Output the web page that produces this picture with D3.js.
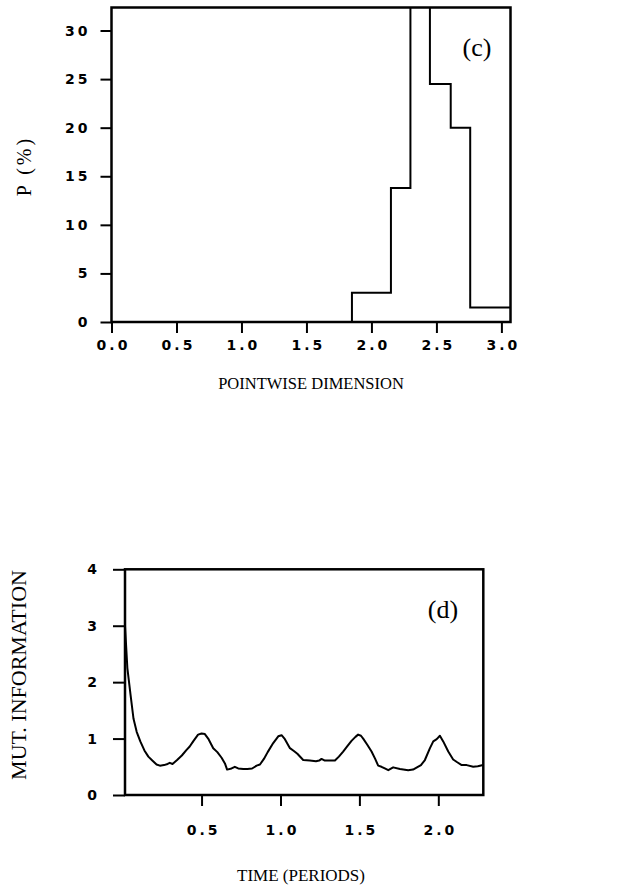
<!DOCTYPE html>
<html>
<head>
<meta charset="utf-8">
<script src="https://cdn.jsdelivr.net/npm/d3@7/dist/d3.min.js"></script>
<style>
  html, body { margin: 0; padding: 0; background: #fff; }
  svg { display: block; }
  .tick text { font-family: "DejaVu Sans", sans-serif; font-weight: bold; font-size: 14px; letter-spacing: 3px; fill: #000; }
  .title { font-family: "Liberation Serif", "DejaVu Serif", serif; fill: #000; }
</style>
</head>
<body>
<script>
// ---- Panel (c): histogram of pointwise dimension ----
const binEdges  = [1.85, 2.15, 2.30, 2.45, 2.61, 2.76, 3.07];
const binValues = [3.0, 13.8, 37.0, 24.5, 20.0, 1.5];
const cXTicks = [0.0, 0.5, 1.0, 1.5, 2.0, 2.5, 3.0];
const cYTicks = [0, 5, 10, 15, 20, 25, 30];

// ---- Panel (d): mutual information vs time ----
const miTime = [0.015, 0.03, 0.049, 0.069, 0.089, 0.112, 0.138, 0.163, 0.188, 0.215, 0.236, 0.262, 0.285, 0.299, 0.316,
  0.345, 0.375, 0.405, 0.425, 0.447, 0.478, 0.500, 0.521, 0.542, 0.574, 0.600, 0.627, 0.648, 0.662, 0.690, 0.711, 0.732,
  0.764, 0.790, 0.820, 0.849, 0.870, 0.895, 0.919, 0.954, 0.986, 1.007, 1.028, 1.060, 1.085, 1.107, 1.144, 1.186, 1.225,
  1.245, 1.260, 1.281, 1.345, 1.370, 1.397, 1.425, 1.450, 1.475, 1.492, 1.510, 1.524, 1.550, 1.577, 1.600, 1.619, 1.640,
  1.661, 1.683, 1.714, 1.757, 1.809, 1.840, 1.862, 1.890, 1.915, 1.947, 1.968, 1.990, 2.010, 2.031, 2.063, 2.094, 2.120,
  2.148, 2.180, 2.221, 2.250, 2.284];
const miValue = [3.0, 2.25, 1.80, 1.35, 1.12, 0.95, 0.79, 0.68, 0.61, 0.54, 0.52, 0.53, 0.55, 0.57, 0.55,
  0.62, 0.70, 0.80, 0.86, 0.95, 1.07, 1.09, 1.08, 1.00, 0.83, 0.76, 0.66, 0.56, 0.45, 0.47, 0.50, 0.47,
  0.46, 0.46, 0.47, 0.52, 0.54, 0.64, 0.76, 0.92, 1.04, 1.06, 0.99, 0.83, 0.78, 0.73, 0.62, 0.61, 0.60,
  0.61, 0.64, 0.61, 0.61, 0.68, 0.77, 0.87, 0.96, 1.03, 1.07, 1.05, 1.00, 0.89, 0.77, 0.64, 0.52, 0.50,
  0.47, 0.44, 0.49, 0.46, 0.44, 0.45, 0.485, 0.53, 0.62, 0.83, 0.95, 0.99, 1.05, 0.95, 0.77, 0.63, 0.58,
  0.53, 0.53, 0.50, 0.51, 0.53];
const dXTicks = [0.5, 1.0, 1.5, 2.0];
const dYTicks = [0, 1, 2, 3, 4];

const W = 617, H = 888;
const svg = d3.select("body").append("svg").attr("width", W).attr("height", H);

function fmt1(d) { return d3.format(".1f")(d); }

function drawAxes(g, x, y, xt, yt, xfmt, xTick, xPad, yTick, yPad) {
  const ls = 3;
  const gx = g.append("g").attr("transform", `translate(0,${y.range()[0]})`)
    .call(d3.axisBottom(x).tickValues(xt).tickFormat(xfmt).tickSize(xTick).tickPadding(xPad));
  gx.select(".domain").remove();
  gx.selectAll(".tick line").attr("stroke", "#000").attr("stroke-width", 2);
  gx.selectAll(".tick text").attr("dx", ls / 2);
  const gy = g.append("g").attr("transform", `translate(${x.range()[0]},0)`)
    .call(d3.axisLeft(y).tickValues(yt).tickFormat(d3.format("d")).tickSize(yTick).tickPadding(yPad));
  gy.select(".domain").remove();
  gy.selectAll(".tick line").attr("stroke", "#000").attr("stroke-width", 2);
}

// ================= Panel (c) =================
const xC = d3.scaleLinear().domain([0, 3.07]).range([111.5, 510.5]);
const yC = d3.scaleLinear().domain([0, 32.37]).range([322, 7.5]);
const gC = svg.append("g");

svg.append("clipPath").attr("id", "clipC").append("rect")
  .attr("x", xC.range()[0]).attr("y", yC.range()[1])
  .attr("width", xC.range()[1] - xC.range()[0]).attr("height", yC.range()[0] - yC.range()[1]);

const histPts = [[binEdges[0], 0]];
binValues.forEach((v, i) => histPts.push([binEdges[i], v]));
histPts.push([binEdges[binEdges.length - 1], binValues[binValues.length - 1]]);

gC.append("path")
  .attr("clip-path", "url(#clipC)")
  .attr("d", d3.line().x(d => xC(d[0])).y(d => yC(d[1])).curve(d3.curveStepAfter)(histPts))
  .attr("fill", "none").attr("stroke", "#000").attr("stroke-width", 2);

drawAxes(gC, xC, yC, cXTicks, cYTicks, fmt1, 11, 7, 11, 10);

gC.append("rect")
  .attr("x", xC.range()[0]).attr("y", yC.range()[1])
  .attr("width", xC.range()[1] - xC.range()[0]).attr("height", yC.range()[0] - yC.range()[1])
  .attr("fill", "none").attr("stroke", "#000").attr("stroke-width", 2.5);

gC.append("text").attr("class", "title")
  .attr("x", 477).attr("y", 56).attr("text-anchor", "middle")
  .style("font-size", "26px").text("(c)");

gC.append("text").attr("class", "title")
  .attr("x", 311).attr("y", 389).attr("text-anchor", "middle")
  .style("font-size", "16.5px").text("POINTWISE DIMENSION");

gC.append("text").attr("class", "title")
  .attr("transform", `translate(31,166) rotate(-90)`).attr("text-anchor", "middle")
  .style("font-size", "20px").style("letter-spacing", "3px").text("P (%)");

// ================= Panel (d) =================
const xD = d3.scaleLinear().domain([0.015, 2.285]).range([125, 483.3]);
const yD = d3.scaleLinear().domain([0, 4]).range([795, 569.3]);
const gD = svg.append("g");

svg.append("clipPath").attr("id", "clipD").append("rect")
  .attr("x", xD.range()[0]).attr("y", yD.range()[1])
  .attr("width", xD.range()[1] - xD.range()[0]).attr("height", yD.range()[0] - yD.range()[1]);

gD.append("path")
  .attr("clip-path", "url(#clipD)")
  .attr("d", d3.line().x((d, i) => xD(miTime[i])).y(d => yD(d))(miValue))
  .attr("fill", "none").attr("stroke", "#000").attr("stroke-width", 2).attr("stroke-linejoin", "round");

drawAxes(gD, xD, yD, dXTicks, dYTicks, fmt1, 11, 19, 12, 13);

gD.append("rect")
  .attr("x", xD.range()[0]).attr("y", yD.range()[1])
  .attr("width", xD.range()[1] - xD.range()[0]).attr("height", yD.range()[0] - yD.range()[1])
  .attr("fill", "none").attr("stroke", "#000").attr("stroke-width", 2.5);

gD.append("text").attr("class", "title")
  .attr("x", 443).attr("y", 618).attr("text-anchor", "middle")
  .style("font-size", "26px").text("(d)");

gD.append("text").attr("class", "title")
  .attr("x", 301).attr("y", 881).attr("text-anchor", "middle")
  .style("font-size", "17px").text("TIME (PERIODS)");

gD.append("text").attr("class", "title")
  .attr("transform", `translate(26,675) rotate(-90)`).attr("text-anchor", "middle")
  .style("font-size", "22px").text("MUT. INFORMATION");
</script>
</body>
</html>
